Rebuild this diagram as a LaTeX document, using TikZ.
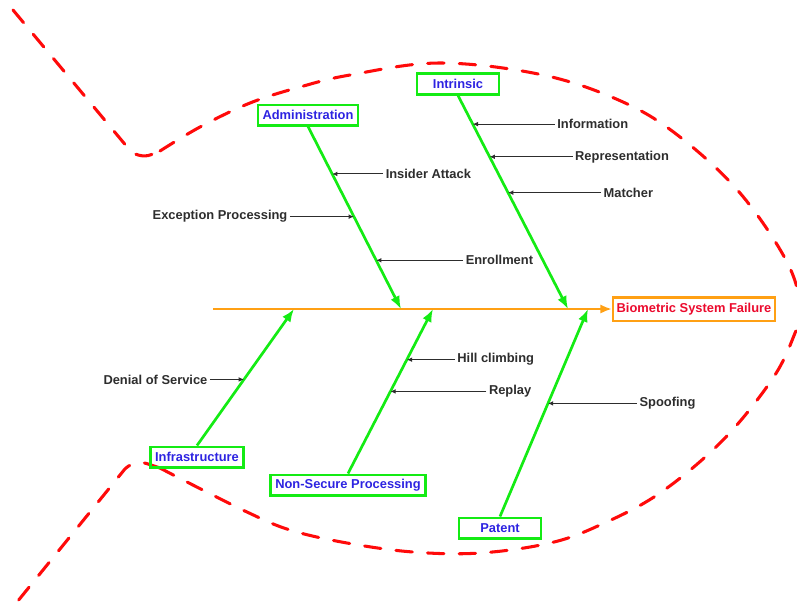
\documentclass[tikz,border=0pt]{standalone}
\usepackage{fontspec}
\setmainfont{Liberation Sans}
\usetikzlibrary{arrows.meta,calc}
\definecolor{bonegreen}{RGB}{20,235,20}
\definecolor{catblue}{RGB}{45,35,225}
\definecolor{spineorange}{RGB}{255,160,20}
\definecolor{failred}{RGB}{235,10,45}
\definecolor{fishred}{RGB}{255,10,10}
\definecolor{causegray}{RGB}{45,45,45}
\begin{document}
\begin{tikzpicture}[x=0.03cm,y=-0.03cm,
    font=\fontsize{11}{13}\selectfont\bfseries,
    catbox/.style={draw=bonegreen,line width=2pt,text=catblue,minimum width=2.45cm,minimum height=0.62cm,inner xsep=4pt},
    bone/.style={bonegreen,line width=2.3pt,-{Latex[length=11pt,width=8.5pt]}},
    cause/.style={text=causegray,inner sep=2pt},
    tick/.style={causegray,line width=0.8pt,-{Latex[length=4.5pt,width=4pt]}},
    fish/.style={fishred,line width=2.6pt,line cap=round,dash pattern=on 14pt off 13pt}]
    \clip (0,0) rectangle (797,608);
    % fish outline
    \draw[fish,rounded corners=12pt] (13,10) -- (138,160) -- (160,151);
    \draw[fish] plot[smooth,tension=0.6] coordinates {(160,151) (200,127) (250,103) (300,87) (350,75) (440,63) (543,75) (623,102) (680,137) (740,193) (787,262) (801,310) (795,333) (773,378) (723,440) (660,493) (600,525) (550,543) (480,553) (413,552) (347,543) (290,530) (247,512) (187,482) (160,468)};
    \draw[fish,rounded corners=12pt] (160,468) -- (133,459) -- (13,607);
    % head and spine
    \node[draw=spineorange,line width=2pt,text=failred,inner sep=3pt,minimum height=0.7cm] (fail) at (694,309) {Biometric System Failure};
    \coordinate (tail) at (213,309);
    \draw[spineorange,line width=2pt,-{Latex[length=10pt,width=8pt]}] (tail) -- (fail.west);
    % categories
    \node[catbox] (admin) at (308,115) {Administration};
    \node[catbox] (intr) at (458,84) {Intrinsic};
    \node[catbox] (infra) at (197,457) {Infrastructure};
    \node[catbox] (nonsec) at (348,485) {Non-Secure Processing};
    \node[catbox] (patent) at (500,528) {Patent};
    \foreach \n/\x in {h1/401,h2/568,h3/294,h4/433,h5/588}
        \coordinate (\n) at (\x,309);
    \draw[bone] (admin.south) -- (h1);
    \draw[bone] (intr.south) -- (h2);
    \draw[bone] (infra.north) -- (h3);
    \draw[bone] (nonsec.north) -- (h4);
    \draw[bone] (patent.north) -- (h5);
    % causes
    \coordinate (c1) at ($(intr.south)!0.134!(h2)$);
    \coordinate (c2) at ($(intr.south)!0.287!(h2)$);
    \coordinate (c3) at ($(intr.south)!0.455!(h2)$);
    \coordinate (c4) at ($(admin.south)!0.26!(h1)$);
    \coordinate (c5) at ($(admin.south)!0.494!(h1)$);
    \coordinate (c6) at ($(admin.south)!0.733!(h1)$);
    \coordinate (c7) at ($(infra.north)!0.484!(h3)$);
    \coordinate (c8) at ($(nonsec.north)!0.692!(h4)$);
    \coordinate (c9) at ($(nonsec.north)!0.499!(h4)$);
    \coordinate (c10) at ($(patent.north)!0.545!(h5)$);
    \node[cause,anchor=west] (info) at ($(c1)+(82,0)$) {Information};
    \node[cause,anchor=west] (repr) at ($(c2)+(83,0)$) {Representation};
    \node[cause,anchor=west] (match) at ($(c3)+(93,0)$) {Matcher};
    \node[cause,anchor=west] (insider) at ($(c4)+(51,0)$) {Insider Attack};
    \node[cause,anchor=east] (except) at ($(c5)+(-64,0)$) {Exception Processing};
    \node[cause,anchor=west] (enroll) at ($(c6)+(87,0)$) {Enrollment};
    \node[cause,anchor=east] (denial) at ($(c7)+(-34,0)$) {Denial of Service};
    \node[cause,anchor=west] (hill) at ($(c8)+(48,0)$) {Hill climbing};
    \node[cause,anchor=west] (replay) at ($(c9)+(96,0)$) {Replay};
    \node[cause,anchor=west] (spoof) at ($(c10)+(89,0)$) {Spoofing};
    \draw[tick] (info.west) -- (c1);
    \draw[tick] (repr.west) -- (c2);
    \draw[tick] (match.west) -- (c3);
    \draw[tick] (insider.west) -- (c4);
    \draw[tick] (except.east) -- (c5);
    \draw[tick] (enroll.west) -- (c6);
    \draw[tick] (denial.east) -- (c7);
    \draw[tick] (hill.west) -- (c8);
    \draw[tick] (replay.west) -- (c9);
    \draw[tick] (spoof.west) -- (c10);
\end{tikzpicture}
\end{document}
